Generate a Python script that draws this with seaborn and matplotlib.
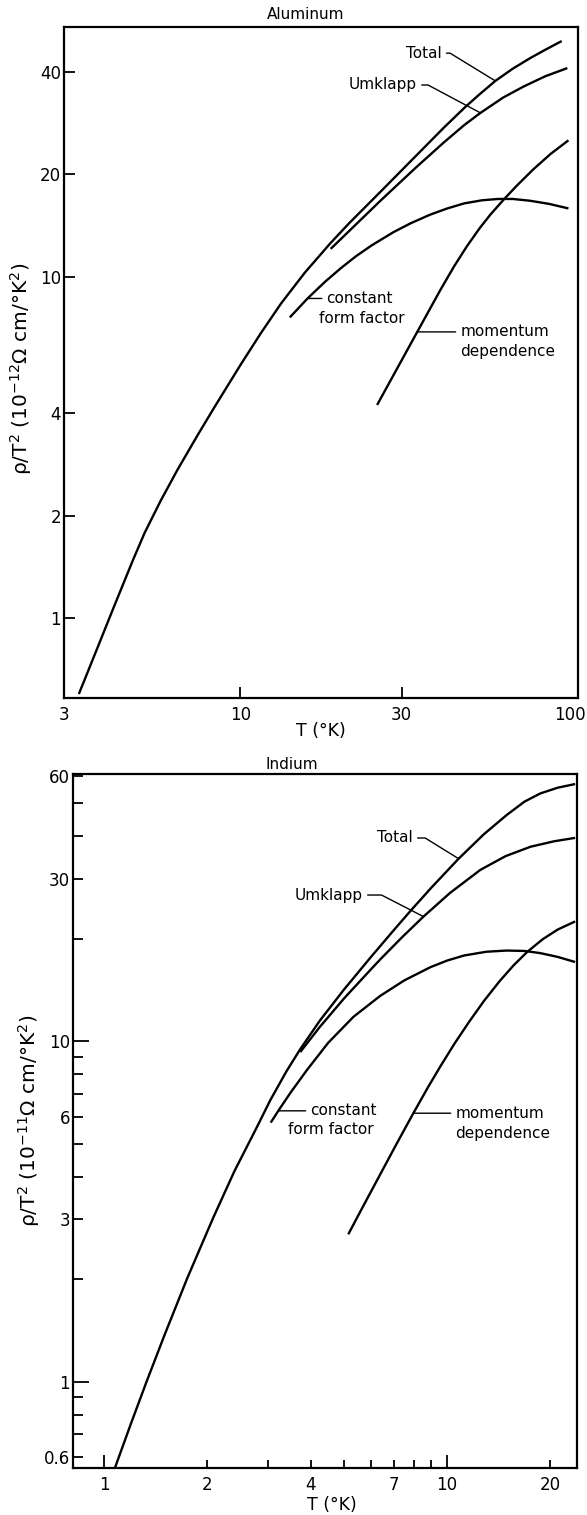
import numpy as np
import pandas as pd
import matplotlib
matplotlib.use("Agg")
import matplotlib.pyplot as plt
from matplotlib.ticker import FixedLocator, NullLocator, FuncFormatter
import seaborn as sns

# ---------------- Aluminum: rho/T^2 in 1e-12 ohm cm / K^2 ----------------
al_total_T = [3.32, 3.8, 4.2, 4.8, 5.2, 5.8, 6.5, 7.5, 8.4, 10, 11.5, 13.2, 15.5, 18.5,
              21, 26, 33, 40, 46.3, 51, 56.9, 64, 72.3, 80, 89.5]
al_total = [0.60, 0.836, 1.07, 1.48, 1.78, 2.21, 2.72, 3.47, 4.18, 5.53, 6.86, 8.38, 10.3, 12.6,
            14.4, 17.8, 22.6, 27.4, 31.5, 34.3, 37.6, 40.8, 43.9, 46.4, 49.2]

al_umklapp_T = [18.5, 21, 26, 33, 40, 46, 51.4, 60, 69, 80, 93]
al_umklapp = [12.1, 13.66, 16.76, 20.9, 24.8, 27.9, 30.3, 33.6, 36.2, 38.8, 41.0]

al_const_T = [14.0, 15.8, 17.8, 19.8, 22, 24.5, 28.4, 32, 36.5, 41, 46, 52, 58, 64, 72, 82, 93.7]
al_const = [7.62, 8.66, 9.69, 10.61, 11.52, 12.4, 13.55, 14.4, 15.25, 15.9, 16.45, 16.8, 16.95,
            16.95, 16.75, 16.4, 15.9]

al_mom_T = [25.4, 29, 33.4, 39.1, 43, 46.9, 51, 55, 60.3, 66, 73.8, 83, 93.7]
al_mom = [4.22, 5.36, 6.91, 9.17, 10.78, 12.33, 13.87, 15.25, 16.9, 18.58, 20.72, 22.98, 25.18]

# ---------------- Indium: rho/T^2 in 1e-11 ohm cm / K^2 ----------------
in_total_T = [1.077, 1.2, 1.33, 1.5, 1.75, 2.08, 2.4, 2.79, 3.05, 3.4, 3.73, 4.26, 5.0, 5.97,
              7.0, 7.8, 9.0, 10.8, 12.8, 14.9, 16.8, 18.7, 21, 23.6]
in_total = [0.56, 0.757, 1.0, 1.37, 2.02, 3.03, 4.16, 5.6, 6.71, 8.16, 9.48, 11.52, 14.18, 17.6,
            21.25, 24.1, 28.3, 34.4, 40.6, 46.2, 50.6, 53.5, 55.6, 57.0]

in_umklapp_T = [3.73, 4.26, 5.0, 5.97, 6.45, 7.4, 8.53, 10.2, 12.5, 14.8, 17.5, 20.5, 23.6]
in_umklapp = [9.3, 11.04, 13.35, 16.2, 17.6, 20.25, 23.25, 27.3, 31.9, 35.0, 37.3, 38.7, 39.6]

in_const_T = [3.06, 3.22, 3.5, 3.9, 4.5, 5.33, 6.38, 7.5, 8.92, 10, 11.2, 13, 14.9, 16.8,
              18.7, 21, 23.6]
in_const = [5.77, 6.25, 7.08, 8.23, 9.9, 11.8, 13.6, 15.1, 16.5, 17.27, 17.87, 18.33, 18.48,
            18.43, 18.16, 17.7, 17.1]

in_mom_T = [5.15, 5.6, 6.3, 7.1, 7.97, 8.8, 9.54, 10.5, 11.6, 12.8, 14.2, 15.6, 17.1, 19, 21, 23.6]
in_mom = [2.71, 3.18, 3.97, 4.97, 6.15, 7.34, 8.42, 9.84, 11.43, 13.14, 15.0, 16.7, 18.3,
          19.96, 21.3, 22.5]

# tick values and labels
al_xticks = [3, 10, 30, 100]
al_yticks = [1, 2, 4, 10, 20, 40]
in_x_major = [1, 10]
in_x_minor = [2, 3, 4, 5, 6, 7, 8, 9, 20]
in_x_labelled = [1, 2, 4, 7, 10, 20]
in_y_major = [1, 10]
in_y_minor = [0.6, 0.7, 0.8, 0.9, 2, 3, 4, 5, 6, 7, 8, 9, 20, 30, 40, 50, 60]
in_y_labelled = [0.6, 1, 3, 6, 10, 30, 60]

sns.set_theme(style="ticks")
plt.rcParams["font.family"] = ["DejaVu Sans"]
plt.rcParams["mathtext.fontset"] = "dejavusans"
plt.rcParams["text.color"] = "black"
plt.rcParams["axes.labelcolor"] = "black"

fig = plt.figure(figsize=(5.87, 15.15), dpi=100)
ax1 = fig.add_axes([64 / 587, 1 - 698 / 1515, 514 / 587, 671 / 1515])
ax2 = fig.add_axes([73 / 587, 1 - 1468 / 1515, 504 / 587, 694 / 1515])


def draw_curves(ax, curves):
    frames = [pd.DataFrame({"T": t, "rho": v, "curve": name})
              for name, (t, v) in curves.items()]
    df = pd.concat(frames, ignore_index=True)
    ax.set_xscale("log")
    ax.set_yscale("log")
    sns.lineplot(data=df, x="T", y="rho", hue="curve",
                 palette=["black"] * len(curves), estimator=None,
                 legend=False, linewidth=1.7, ax=ax,
                 solid_joinstyle="round", solid_capstyle="butt")
    for s in ax.spines.values():
        s.set_visible(True)
        s.set_linewidth(1.6)
        s.set_color("black")


def fmt_number(v):
    return f"{v:g}"


def slanted_label(ax, text, xy, text_pos, angle):
    ax.annotate(text, xy=xy, xycoords="data", xytext=text_pos,
                textcoords="axes fraction", ha="right", va="center",
                fontsize=11, color="black",
                arrowprops=dict(arrowstyle="-", color="black", lw=1.0,
                                shrinkA=1, shrinkB=0, relpos=(1, 0.5),
                                connectionstyle=f"angle,angleA=0,angleB={angle},rad=0"))


def side_label(ax, lines, xy, dx, dx2, dy2):
    ax.annotate(lines[0], xy=xy, xycoords="data", xytext=(dx, 0),
                textcoords="offset pixels", ha="left", va="center",
                fontsize=11, color="black",
                arrowprops=dict(arrowstyle="-", color="black", lw=1.0,
                                shrinkA=1, shrinkB=0, relpos=(0, 0.5)))
    ax.annotate(lines[1], xy=xy, xycoords="data", xytext=(dx2, dy2),
                textcoords="offset pixels", ha="left", va="center",
                fontsize=11, color="black")


# ---------------- Aluminum panel ----------------
draw_curves(ax1, {
    "Total": (al_total_T, al_total),
    "Umklapp": (al_umklapp_T, al_umklapp),
    "constant form factor": (al_const_T, al_const),
    "momentum dependence": (al_mom_T, al_mom),
})
ax1.set_xlim(3, 100)
ax1.set_ylim(0.584, 54.1)
ax1.xaxis.set_major_locator(FixedLocator(al_xticks))
ax1.xaxis.set_minor_locator(NullLocator())
# the last label sits at the right corner and is placed separately below
ax1.xaxis.set_major_formatter(FuncFormatter(lambda v, p: "" if v >= al_xticks[-1] else fmt_number(v)))
ax1.yaxis.set_major_locator(FixedLocator(al_yticks))
ax1.yaxis.set_minor_locator(NullLocator())
ax1.yaxis.set_major_formatter(FuncFormatter(lambda v, p: fmt_number(v)))
ax1.tick_params(which="both", direction="in", length=8, width=1.3,
                labelsize=12, colors="black")
ax1.tick_params(axis="x", pad=6)
ax1.tick_params(axis="y", pad=2)
ax1.text(1.0156, -8.5 / 671, fmt_number(al_xticks[-1]), transform=ax1.transAxes,
         ha="right", va="top", fontsize=12)
ax1.set_xlabel("T (°K)", fontsize=12.5)
ax1.xaxis.set_label_coords(0.5, -0.036)
ax1.set_ylabel("ρ/T$^2$ (10$^{-12}$Ω cm/°K$^2$)", fontsize=14.5)
ax1.yaxis.set_label_coords(-0.058, 0.49)
ax1.text(0.471, 1.018, "Aluminum", transform=ax1.transAxes,
         ha="center", va="center", fontsize=11)

slanted_label(ax1, "Total", (al_total_T[20], al_total[20]), (0.735, 0.961), -31.5)
slanted_label(ax1, "Umklapp", (al_umklapp_T[6], al_umklapp[6]), (0.687, 0.9136), -28)
side_label(ax1, ("constant", "form factor"), (al_const_T[1], al_const[1]), 19, 11, -20)
side_label(ax1, ("momentum", "dependence"), (al_mom_T[2], al_mom[2]), 43, 43, -20)

# ---------------- Indium panel ----------------
draw_curves(ax2, {
    "Total": (in_total_T, in_total),
    "Umklapp": (in_umklapp_T, in_umklapp),
    "constant form factor": (in_const_T, in_const),
    "momentum dependence": (in_mom_T, in_mom),
})
ax2.set_xlim(0.812, 23.9)
ax2.set_ylim(0.558, 61)
lab_x = FuncFormatter(lambda v, p: fmt_number(v) if any(np.isclose(v, in_x_labelled)) else "")
lab_y = FuncFormatter(lambda v, p: fmt_number(v) if any(np.isclose(v, in_y_labelled)) else "")
ax2.xaxis.set_major_locator(FixedLocator(in_x_major))
ax2.xaxis.set_minor_locator(FixedLocator(in_x_minor))
ax2.xaxis.set_major_formatter(lab_x)
ax2.xaxis.set_minor_formatter(lab_x)
ax2.yaxis.set_major_locator(FixedLocator(in_y_major))
ax2.yaxis.set_minor_locator(FixedLocator(in_y_minor))
ax2.yaxis.set_major_formatter(lab_y)
ax2.yaxis.set_minor_formatter(lab_y)
ax2.tick_params(which="both", direction="in", width=1.3, labelsize=12, colors="black")
ax2.tick_params(axis="x", which="major", length=9.5, pad=6)
ax2.tick_params(axis="x", which="minor", length=6, pad=6)
ax2.tick_params(axis="y", which="major", length=11.5, pad=2)
ax2.tick_params(axis="y", which="minor", length=7, pad=2)
ax2.set_xlabel("T (°K)", fontsize=12.5)
ax2.xaxis.set_label_coords(0.514, -0.041)
ax2.set_ylabel("ρ/T$^2$ (10$^{-11}$Ω cm/°K$^2$)", fontsize=14.5)
ax2.yaxis.set_label_coords(-0.062, 0.50)
ax2.text(0.4345, 1.013, "Indium", transform=ax2.transAxes,
         ha="center", va="center", fontsize=11)

slanted_label(ax2, "Total", (in_total_T[17], in_total[17]), (0.6746, 0.9078), -31.7)
slanted_label(ax2, "Umklapp", (in_umklapp_T[6], in_umklapp[6]), (0.5754, 0.8256), -27.2)
side_label(ax2, ("constant", "form factor"), (in_const_T[1], in_const[1]), 32, 10, -19)
side_label(ax2, ("momentum", "dependence"), (in_mom_T[4], in_mom[4]), 42, 42, -20)

fig.savefig("out.png", dpi=100, facecolor="white")
